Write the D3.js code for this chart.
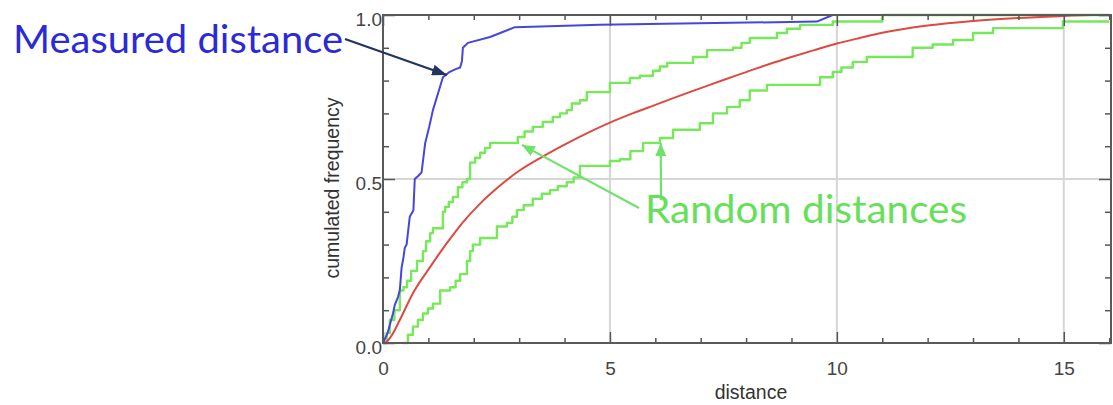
<!DOCTYPE html>
<html>
<head>
<meta charset="utf-8">
<script src="https://cdn.jsdelivr.net/npm/d3@7"></script>
<style>
  body { margin: 0; background: #fff; }
  svg { display: block; }
  .axis text { font-family: "Liberation Sans", Arial, sans-serif; font-size: 19px; fill: #444; }
  .axis line { stroke: #555; stroke-width: 1.5px; }
  .axis path.domain { display: none; }
  .grid line { stroke: #d6d6d6; stroke-width: 2px; }
  .title { font-family: "Liberation Sans", Arial, sans-serif; font-size: 19.5px; fill: #333; }
  .note { font-family: Lato, "Open Sans", sans-serif; font-size: 39px; }
</style>
</head>
<body>
<svg id="svg" width="1113" height="405"></svg>
<script>

// measured cumulative distribution (distance, frequency)
var measured = [
  [0, 0], [0.1, 0.03], [0.22, 0.09], [0.26, 0.116], [0.33, 0.14], [0.37, 0.16],
  [0.41, 0.23], [0.45, 0.26], [0.48, 0.29], [0.52, 0.30], [0.59, 0.385], [0.67, 0.405],
  [0.70, 0.50], [0.78, 0.51], [0.85, 0.52], [0.93, 0.61], [1.02, 0.66], [1.10, 0.71],
  [1.21, 0.76], [1.32, 0.81], [1.45, 0.825], [1.60, 0.835], [1.70, 0.84], [1.74, 0.86],
  [1.76, 0.90], [1.87, 0.915], [2.36, 0.933], [2.91, 0.963], [4.78, 0.97], [9.56, 0.98],
  [9.91, 1.0], [16, 1.0]
];

// mean of random distances
var randomMean = [
  [0, 0], [0.08, 0.004], [0.2, 0.025], [0.37, 0.07], [0.66, 0.152], [1.04, 0.232],
  [1.41, 0.305], [1.76, 0.368], [2.14, 0.425], [2.58, 0.48], [3.0, 0.525], [3.5, 0.567],
  [4.0, 0.605], [4.5, 0.64], [5.0, 0.672], [5.5, 0.70], [6.0, 0.726], [6.5, 0.752],
  [7.0, 0.777], [7.5, 0.802], [8.0, 0.826], [8.5, 0.85], [9.0, 0.872], [9.5, 0.893],
  [10.0, 0.913], [10.5, 0.93], [11.0, 0.946], [12.0, 0.968], [13.0, 0.982], [14.0, 0.991],
  [15.0, 0.997], [15.6, 1.0], [16, 1.0]
];

// upper envelope of random distances (steps)
var randomUpper = [
  [0, 0], [0.08, 0.03], [0.15, 0.07], [0.25, 0.10], [0.37, 0.16], [0.45, 0.17],
  [0.53, 0.19], [0.62, 0.22], [0.75, 0.25], [0.88, 0.28], [0.95, 0.31], [1.04, 0.335],
  [1.10, 0.35], [1.32, 0.40], [1.37, 0.415], [1.45, 0.43], [1.54, 0.445], [1.65, 0.475],
  [1.75, 0.49], [1.85, 0.50], [1.92, 0.55], [2.03, 0.565], [2.14, 0.58], [2.25, 0.595],
  [2.36, 0.61], [2.97, 0.628], [3.12, 0.645], [3.30, 0.659], [3.52, 0.674], [3.74, 0.689],
  [3.90, 0.70], [4.05, 0.71], [4.16, 0.73], [4.34, 0.74], [4.49, 0.765], [5.0, 0.793],
  [5.44, 0.808], [5.66, 0.815], [5.95, 0.83], [6.10, 0.843], [6.26, 0.854], [6.83, 0.872],
  [7.14, 0.893], [7.71, 0.90], [7.9, 0.915], [8.08, 0.93], [8.68, 0.945], [8.9, 0.958],
  [9.19, 0.97], [9.91, 0.98], [11.0, 1.0], [16, 1.0]
];

// lower envelope of random distances (steps)
var randomLower = [
  [0.44, 0], [0.55, 0.025], [0.66, 0.05], [0.77, 0.07], [0.88, 0.09], [0.99, 0.105],
  [1.10, 0.12], [1.26, 0.16], [1.48, 0.17], [1.60, 0.19], [1.70, 0.21], [1.85, 0.25],
  [1.92, 0.28], [1.98, 0.30], [2.14, 0.32], [2.51, 0.355], [2.73, 0.366], [2.85, 0.385],
  [2.95, 0.405], [3.10, 0.42], [3.30, 0.44], [3.50, 0.455], [3.68, 0.466], [3.85, 0.478],
  [4.05, 0.49], [4.20, 0.505], [4.34, 0.54], [5.0, 0.555], [5.22, 0.56], [5.45, 0.585],
  [5.73, 0.61], [6.10, 0.625], [6.39, 0.65], [6.98, 0.67], [7.27, 0.70], [7.58, 0.72],
  [7.86, 0.74], [8.08, 0.77], [8.46, 0.787], [9.63, 0.81], [9.91, 0.826], [10.1, 0.84],
  [10.35, 0.857], [10.66, 0.872], [11.67, 0.90], [12.11, 0.91], [12.56, 0.924], [13.0, 0.945],
  [13.44, 0.96], [14.98, 0.98], [16, 0.98]
];

var xTicks = [0, 5, 10, 15];
var yTicks = [0, 0.5, 1];
var xGrid = [5, 10, 15];
var yGrid = [0.5];

var svg = d3.select('#svg');

var x = d3.scaleLinear().domain([0, 16.04]).range([383, 1111]);
var y = d3.scaleLinear().domain([0, 1]).range([343, 15]);

var xMinor = d3.range(0, 17).filter(function (d) { return xTicks.indexOf(d) < 0; });
var yMinor = d3.range(1, 10).map(function (d) { return d / 10; }).filter(function (d) { return d !== 0.5; });

// grid
var grid = svg.append('g').attr('class', 'grid');
grid.selectAll('line.v').data(xGrid).enter().append('line')
  .attr('x1', x).attr('x2', x).attr('y1', y(0)).attr('y2', y(1));
grid.selectAll('line.h').data(yGrid).enter().append('line')
  .attr('y1', y).attr('y2', y).attr('x1', x(0)).attr('x2', x.range()[1]);

// curves
function draw(data, color, width, curve) {
  svg.append('path')
    .datum(data)
    .attr('fill', 'none')
    .attr('stroke', color)
    .attr('stroke-width', width)
    .attr('stroke-linejoin', 'round')
    .attr('d', d3.line()
      .x(function (d) { return x(d[0]); })
      .y(function (d) { return y(d[1]); })
      .curve(curve));
}

draw(randomLower, '#76e85a', 2.4, d3.curveStepAfter);
draw(randomUpper, '#76e85a', 2.4, d3.curveStepAfter);
draw(randomMean, '#dc4a40', 2, d3.curveMonotoneX);
draw(measured, '#4646dc', 2, d3.curveLinear);

// axes with inward ticks
var bottom = svg.append('g').attr('class', 'axis')
  .attr('transform', 'translate(0,' + y(0) + ')');
bottom.call(d3.axisBottom(x).tickValues(xTicks).tickSize(-11).tickPadding(19).tickFormat(d3.format('d')));
svg.append('g').attr('class', 'axis')
  .attr('transform', 'translate(0,' + y(0) + ')')
  .call(d3.axisBottom(x).tickValues(xMinor).tickSize(-5).tickFormat(''));

svg.append('g').attr('class', 'axis')
  .attr('transform', 'translate(0,' + y(1) + ')')
  .call(d3.axisTop(x).tickValues(xTicks).tickSize(-11).tickFormat(''));
svg.append('g').attr('class', 'axis')
  .attr('transform', 'translate(0,' + y(1) + ')')
  .call(d3.axisTop(x).tickValues(xMinor).tickSize(-5).tickFormat(''));

var left = svg.append('g').attr('class', 'axis')
  .attr('transform', 'translate(' + x(0) + ',0)');
left.call(d3.axisLeft(y).tickValues(yTicks).tickSize(-12).tickPadding(1).tickFormat(d3.format('.1f')));
left.selectAll('text').attr('dy', '0.55em');
svg.append('g').attr('class', 'axis')
  .attr('transform', 'translate(' + x(0) + ',0)')
  .call(d3.axisLeft(y).tickValues(yMinor).tickSize(-6).tickFormat(''));

svg.append('g').attr('class', 'axis')
  .attr('transform', 'translate(' + x.range()[1] + ',0)')
  .call(d3.axisRight(y).tickValues(yTicks).tickSize(-12).tickFormat(''));
svg.append('g').attr('class', 'axis')
  .attr('transform', 'translate(' + x.range()[1] + ',0)')
  .call(d3.axisRight(y).tickValues(yMinor).tickSize(-6).tickFormat(''));

// frame
svg.append('rect')
  .attr('x', x(0)).attr('y', y(1))
  .attr('width', x.range()[1] - x(0)).attr('height', y(0) - y(1))
  .attr('fill', 'none').attr('stroke', '#5a5a5a').attr('stroke-width', 2);

// axis titles
svg.append('text').attr('class', 'title')
  .attr('x', 751).attr('y', 399).attr('text-anchor', 'middle')
  .text('distance');
svg.append('text').attr('class', 'title')
  .attr('transform', 'translate(339,188) rotate(-90)')
  .attr('text-anchor', 'middle')
  .text('cumulated frequency');

// arrow heads
var defs = svg.append('defs');
function head(id, color, len, wid) {
  defs.append('marker')
    .attr('id', id)
    .attr('markerUnits', 'userSpaceOnUse')
    .attr('markerWidth', len).attr('markerHeight', wid)
    .attr('refX', len).attr('refY', wid / 2)
    .attr('orient', 'auto')
    .append('path')
    .attr('d', 'M0,0L' + len + ',' + (wid / 2) + 'L0,' + wid + 'Z')
    .attr('fill', color);
}
head('navy', '#1f3560', 15, 11);
head('green', '#6fe26a', 13, 11);

function arrow(x1, y1, tip, color, id) {
  svg.append('line')
    .attr('x1', x1).attr('y1', y1)
    .attr('x2', x(tip[0])).attr('y2', y(tip[1]))
    .attr('stroke', color).attr('stroke-width', 2.2)
    .attr('marker-end', 'url(#' + id + ')');
}

arrow(345, 39, [1.41, 0.817], '#1f3560', 'navy');
arrow(639, 208, [3.06, 0.604], '#6fe26a', 'green');
arrow(661, 200, [6.12, 0.61], '#6fe26a', 'green');

// annotations
svg.append('text').attr('class', 'note')
  .attr('x', 13).attr('y', 53)
  .attr('textLength', 330).attr('lengthAdjust', 'spacingAndGlyphs')
  .attr('fill', '#2b2bd6')
  .text('Measured distance');
svg.append('text').attr('class', 'note')
  .attr('x', 645).attr('y', 223)
  .attr('textLength', 322).attr('lengthAdjust', 'spacingAndGlyphs')
  .attr('fill', '#66e05a')
  .text('Random distances');

</script>
</body>
</html>
